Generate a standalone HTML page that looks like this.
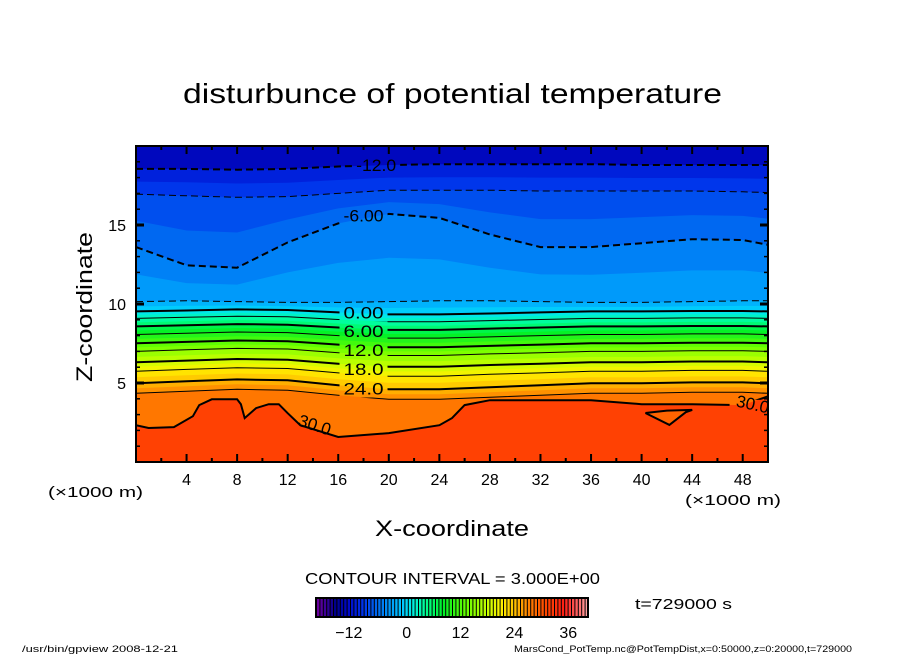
<!DOCTYPE html>
<html><head><meta charset="utf-8"><style>
html,body{margin:0;padding:0;background:#fff;}
svg{display:block;font-family:"Liberation Sans",sans-serif;}
</style></head><body>
<svg id="chart" width="904" height="654" xmlns="http://www.w3.org/2000/svg">
<rect width="904" height="654" fill="#fff"/>
<text x="183" y="103" font-size="28" textLength="539" lengthAdjust="spacingAndGlyphs">disturbunce of potential temperature</text>
<g id="plot"></g>
<text transform="translate(92,382) rotate(-90)" font-size="22" textLength="150" lengthAdjust="spacingAndGlyphs">Z-coordinate</text>
<text x="375" y="536" font-size="22" textLength="154" lengthAdjust="spacingAndGlyphs">X-coordinate</text>
<text x="48" y="497" font-size="15" textLength="95" lengthAdjust="spacingAndGlyphs">(×1000 m)</text>
<text x="685" y="505" font-size="15" textLength="96" lengthAdjust="spacingAndGlyphs">(×1000 m)</text>
<text x="305" y="584" font-size="16" textLength="295" lengthAdjust="spacingAndGlyphs">CONTOUR INTERVAL = 3.000E+00</text>
<text x="635" y="609" font-size="15" textLength="97" lengthAdjust="spacingAndGlyphs">t=729000 s</text>
<g id="cbar"></g>
<text x="22" y="652" font-size="9" textLength="156" lengthAdjust="spacingAndGlyphs">/usr/bin/gpview   2008-12-21</text>
<text x="514" y="652" font-size="9" textLength="338" lengthAdjust="spacingAndGlyphs">MarsCond_PotTemp.nc@PotTempDist,x=0:50000,z=0:20000,t=729000</text>
</svg>
<script>
// ---- data ----
const xGrid = [0,4,8,12,16,20,24,28,32,36,40,44,48,50];
const levels = [-12,-9,-6,-3,0,3,6,9,12,15,18,21,24,27];
const zLevM12 = [18.55,18.55,18.5,18.55,18.7,18.8,18.85,18.85,18.85,18.85,18.8,18.8,18.8,18.8];
const zLevM9  = [16.95,16.85,16.75,16.8,17.0,17.2,17.2,17.2,17.15,17.15,17.15,17.15,17.1,17.05];
const zLevM6  = [13.6,12.45,12.3,13.9,15.1,15.7,15.45,14.4,13.6,13.6,13.85,14.1,14.05,13.75];
const zLevM3  = [10.15,10.2,10.15,10.1,10.1,10.15,10.2,10.2,10.15,10.1,10.1,10.15,10.2,10.2];
const zLev0  = [9.53,9.59,9.66,9.62,9.47,9.34,9.34,9.40,9.47,9.53,9.53,9.56,9.56,9.53];
const zLev3  = [9.09,9.16,9.23,9.19,9.02,8.88,8.88,8.95,9.02,9.09,9.09,9.12,9.12,9.09];
const zLev6  = [8.58,8.65,8.73,8.69,8.51,8.36,8.36,8.44,8.51,8.58,8.58,8.61,8.61,8.58];
const zLev9  = [8.07,8.15,8.23,8.19,8.00,7.84,7.84,7.92,8.0,8.07,8.07,8.11,8.11,8.07];
const zLev12 = [7.51,7.60,7.69,7.64,7.43,7.26,7.26,7.35,7.43,7.51,7.51,7.55,7.55,7.51];
const zLev15 = [7.0,7.1,7.19,7.15,6.92,6.74,6.74,6.84,6.92,7.0,7.0,7.04,7.04,7.0];
const zLev18 = [6.31,6.42,6.52,6.47,6.22,6.03,6.03,6.14,6.22,6.31,6.31,6.36,6.36,6.31];
const zLev21 = [5.74,5.86,5.97,5.92,5.64,5.43,5.43,5.55,5.64,5.74,5.74,5.80,5.80,5.74];
const zLev24 = [4.98,5.11,5.23,5.17,4.86,4.60,4.60,4.73,4.86,4.98,4.98,5.04,5.04,4.98];
const zLev27 = [4.35,4.48,4.60,4.54,4.22,3.97,3.97,4.10,4.22,4.35,4.35,4.41,4.41,4.35];
const levelHeights = [zLevM12,zLevM9,zLevM6,zLevM3,zLev0,zLev3,zLev6,zLev9,zLev12,zLev15,zLev18,zLev21,zLev24,zLev27];
const x30 = [0,1,3,4.5,5,6,8,8.3,8.6,9.5,10.5,11.3,12,13,16,20,24,25,26,28,36,40,44,48,50];
const z30 = [2.33,2.15,2.21,2.90,3.60,3.97,3.97,3.66,2.78,3.41,3.66,3.66,3.09,2.33,1.58,1.83,2.33,2.78,3.60,3.91,3.91,3.66,3.66,3.60,4.16];
const loopX = [40.3,42,44,43.5,42.2,40.3];
const loopZ = [3.1,3.25,3.3,3.15,2.35,3.1];
const xTickLabels = [4,8,12,16,20,24,28,32,36,40,44,48];
const zTickLabels = [5,10,15];
const cbarTickLabels = [-12,0,12,24,36];
const contourLabels = [["-12.0",18.8,19],["-6.00",15.6,18],["0.00",9.45,18],["6.00",8.3,18],["12.0",7.1,18],["18.0",5.9,18],["24.0",4.65,18]];

// ---- scales ----
const X0=136, X1=768, Y0=462, Y1=146;
const sx = x => X0 + x/50*(X1-X0);
const sy = z => Y0 - z/20*(Y0-Y1);
const stops=[[-20,110,0,160],[-16,0,0,140],[-13,0,10,200],[-10,0,50,235],[-7,0,100,240],[-4,0,150,250],[-1,0,200,255],[1,0,235,230],[4,0,255,150],[8,0,240,40],[13,100,255,0],[18,200,255,0],[21,255,240,0],[24,255,190,0],[27,255,130,0],[31,255,70,0],[35,255,30,20],[38,255,100,100],[40,255,160,160]];
function cmap(v){
  if(v<=stops[0][0]) return `rgb(${stops[0][1]},${stops[0][2]},${stops[0][3]})`;
  for(let i=1;i<stops.length;i++){ if(v<=stops[i][0]){const a=stops[i-1],b=stops[i],t=(v-a[0])/(b[0]-a[0]);
    return `rgb(${Math.round(a[1]+t*(b[1]-a[1]))},${Math.round(a[2]+t*(b[2]-a[2]))},${Math.round(a[3]+t*(b[3]-a[3]))})`;}}
  const l=stops[stops.length-1]; return `rgb(${l[1]},${l[2]},${l[3]})`;
}
const NS="http://www.w3.org/2000/svg";
function mk(tag,attrs,parent){const e=document.createElementNS(NS,tag);for(const k in attrs)e.setAttribute(k,attrs[k]);parent.appendChild(e);return e;}
const plot=document.getElementById('plot');
const defs=mk('defs',{},plot);
const clip=mk('clipPath',{id:'pc'},defs);
mk('rect',{x:X0,y:Y1,width:X1-X0,height:Y0-Y1},clip);
const mask=mk('mask',{id:'lm',maskUnits:'userSpaceOnUse',x:0,y:0,width:904,height:654},defs);
mk('rect',{x:0,y:0,width:904,height:654,fill:'#fff'},mask);
const g=mk('g',{'clip-path':'url(#pc)'},plot);

let bg=mk('rect',{x:X0,y:Y1,width:X1-X0,height:Y0-Y1,fill:cmap(levels[0]-1.5)},g);


function linePts(xs,zs){return xs.map((x,i)=>sx(x).toFixed(1)+','+sy(zs[i]).toFixed(1));}
const bottom=[sx(50)+','+(Y0+5),sx(0)+','+(Y0+5)];
levels.forEach((L,i)=>{
  const p=mk('polygon',{points:linePts(xGrid,levelHeights[i]).concat(bottom).join(' '),fill:cmap(L+0.75)},g);
  
  
  if(i+1<levels.length){
    const mid=levelHeights[i].map((z,j)=>(z+levelHeights[i+1][j])/2);
    const q=mk('polygon',{points:linePts(xGrid,mid).concat(bottom).join(' '),fill:cmap(L+2.25)},g);
    
    
  }
});
{
  const p=mk('polygon',{points:linePts(x30,z30).concat(bottom).join(' '),fill:cmap(31.5)},g);
  
  
  const q=mk('polygon',{points:linePts(loopX,loopZ).join(' '),fill:cmap(29)},g);
  
  
}
// contour lines (masked where labels sit)
const lg=mk('g',{mask:'url(#lm)'},g);
function styleFor(L){const thick=(L%6===0);return {stroke:'#000','stroke-width':thick?2:1,fill:'none','stroke-dasharray':L<0?'7,4':'none'};}
levels.forEach((L,i)=>{
  const a=styleFor(L);a.points=linePts(xGrid,levelHeights[i]).join(' ');
  const p=mk('polyline',a,lg);
  
  
});
{
  const a=styleFor(30);a.points=linePts(x30,z30).join(' ');
  const p=mk('polyline',a,lg);
  
  
  const b=styleFor(30);b.points=linePts(loopX,loopZ).join(' ');
  const q=mk('polyline',b,lg);
  
  
}
contourLabels.forEach(c=>{
  const cx=sx(c[2]),cy=sy(c[1]);
  mk('rect',{x:cx-24,y:cy-9,width:48,height:18,fill:'#000'},mask);
  const t=mk('text',{x:cx,y:cy+6,'font-size':17,'text-anchor':'middle',fill:'#000',textLength:40,lengthAdjust:'spacingAndGlyphs'},g);
  t.textContent=c[0];
  
  
});
{
  const t=mk('text',{transform:`translate(${sx(14)},${sy(2.0)}) rotate(18)`,'font-size':17,'text-anchor':'middle'},g);
  t.textContent='30.0';
  
  
  const u=mk('text',{transform:`translate(${sx(48.7)},${sy(3.3)}) rotate(12)`,'font-size':17,'text-anchor':'middle'},g);
  u.textContent='30.0';
  
  
  mk('rect',{x:sx(48.7)-22,y:sy(3.3)-10,width:44,height:18,fill:'#000'},mask);
}
// frame
const fr=mk('rect',{x:X0,y:Y1,width:X1-X0,height:Y0-Y1,fill:'none',stroke:'#000','stroke-width':2},plot);


// ticks
for(let x=2;x<50;x+=2){const L=(x%4===0)?8:4;
  mk('line',{x1:sx(x),x2:sx(x),y1:Y0,y2:Y0-L,stroke:'#000','stroke-width':2},plot);
  mk('line',{x1:sx(x),x2:sx(x),y1:Y1,y2:Y1+L,stroke:'#000','stroke-width':2},plot);}
for(let z=1;z<20;z++){const L=(z%5===0)?8:4;
  mk('line',{x1:X0,x2:X0+L,y1:sy(z),y2:sy(z),stroke:'#000','stroke-width':(z%5===0)?3:1.5},plot);
  mk('line',{x1:X1,x2:X1-L,y1:sy(z),y2:sy(z),stroke:'#000','stroke-width':(z%5===0)?3:1.5},plot);}
xTickLabels.forEach(v=>{const t=mk('text',{x:sx(v),y:485,'font-size':16,'text-anchor':'middle'},plot);t.textContent=v;
  
  });
zTickLabels.forEach(v=>{const t=mk('text',{x:126,y:sy(v)+6,'font-size':16,'text-anchor':'end'},plot);t.textContent=v;
  
  });
// colorbar
const cb=document.getElementById('cbar');
const CB0=316,CB1=588,CV0=-20.2,CV1=40.4,N=80;
const cs=v=>CB0+(v-CV0)/(CV1-CV0)*(CB1-CB0);
mk('rect',{x:CB0,y:598,width:CB1-CB0,height:19,fill:'#000'},cb);
for(let i=0;i<N;i++){const v0=CV0+(CV1-CV0)*i/N,v1=CV0+(CV1-CV0)*(i+1)/N;
  const r=mk('rect',{x:cs(v0)+1,y:599,width:Math.max(cs(v1)-cs(v0)-1,0.5),height:17,fill:cmap((v0+v1)/2)},cb);
  
  }
mk('rect',{x:CB0,y:598,width:CB1-CB0,height:19,fill:'none',stroke:'#000','stroke-width':2},cb);
cbarTickLabels.forEach(v=>{const t=mk('text',{x:cs(v)+(v<0?-4:0),y:638,'font-size':16,'text-anchor':'middle'},cb);t.textContent=(v<0?'\u2212'+(-v):v);
  
  });
</script>
</body></html>
